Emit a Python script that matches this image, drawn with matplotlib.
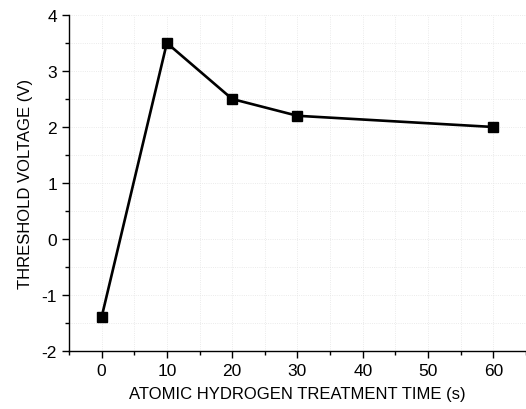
import matplotlib
matplotlib.use("Agg")
import matplotlib.pyplot as plt
from matplotlib.ticker import MultipleLocator

# data
time_s = [0, 10, 20, 30, 60]
vth = [-1.4, 3.5, 2.5, 2.2, 2.0]

plt.rcParams['font.family'] = ['Liberation Sans', 'DejaVu Sans']
plt.rcParams['axes.unicode_minus'] = False

fig = plt.figure(figsize=(5.26, 4.10), dpi=100)
ax = fig.add_axes([0.131, 0.1415, 0.869, 0.8195])

ax.plot(time_s, vth, color='black', lw=1.9, marker='s', ms=7, zorder=3)

ax.set_xlim(-5, 65)
ax.set_ylim(-2, 4)
ax.xaxis.set_major_locator(MultipleLocator(10))
ax.xaxis.set_minor_locator(MultipleLocator(5))
ax.yaxis.set_major_locator(MultipleLocator(1))
ax.yaxis.set_minor_locator(MultipleLocator(0.5))

ax.grid(True, which='both', color='#e4e4e4', lw=0.6, ls=':')
ax.set_axisbelow(True)

for s in ['top', 'right']:
    ax.spines[s].set_visible(False)
for s in ['left', 'bottom']:
    ax.spines[s].set_linewidth(1.0)

ax.tick_params(which='major', direction='out', length=5, width=1, labelsize=12.5)
ax.tick_params(which='minor', direction='out', length=3, width=1)

ax.set_xlabel('ATOMIC HYDROGEN TREATMENT TIME (s)', fontsize=12, labelpad=6)
ax.set_ylabel('THRESHOLD VOLTAGE (V)', fontsize=12, labelpad=6)

fig.savefig('out.png', dpi=100)
